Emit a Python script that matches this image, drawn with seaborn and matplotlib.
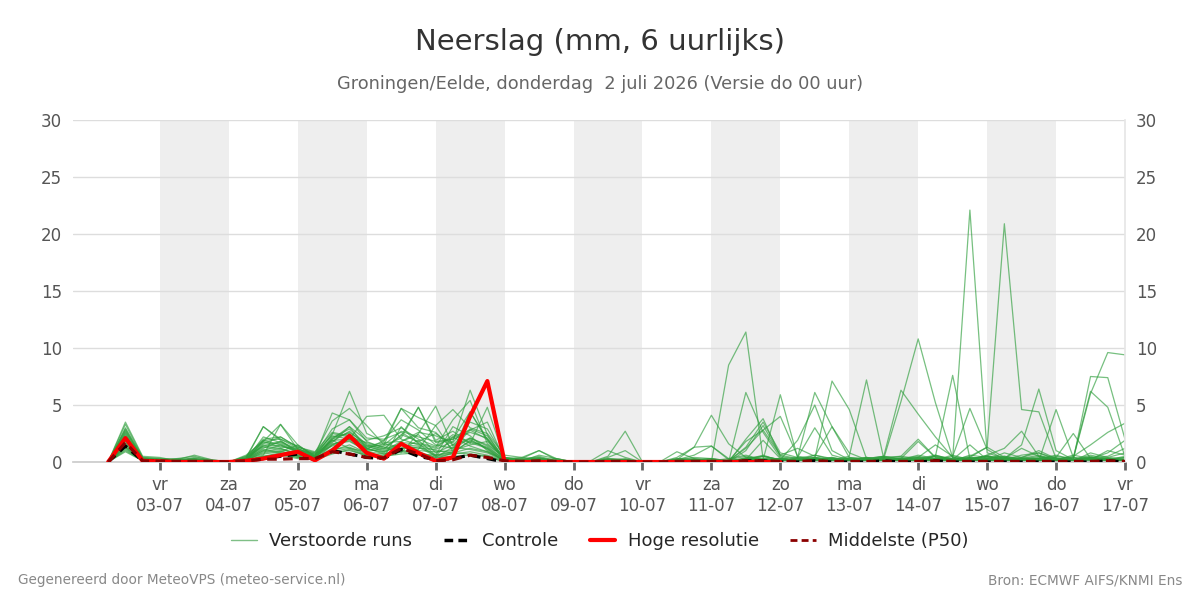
import numpy as np
import pandas as pd
import seaborn as sns
import matplotlib.pyplot as plt
from matplotlib.lines import Line2D

# ---- data: 6-hourly precipitation (mm), 02-07 06:00 .. 17-07 00:00 ----
start_time = "2026-07-02 06:00"
n_steps = 60

m01 = [0, 2.8, 0.3,  0.2, 0.1, 0.3, 0.1,  0.0, 0.2, 1.2, 1.8,
       1.0, 0.4, 2.1, 2.9,  1.5, 1.0, 1.8, 2.4,  0.8, 1.5, 2.9, 2.3,  0.3, 0.1, 0.2, 0.1,
       0.0, 0.0, 0.1, 0.3,  0.0, 0.0, 0.0, 0.2,  0.3, 0.0, 0.1, 0.5,  0.2, 0.1, 0.6, 0.3,  0.1, 0.2, 0.4, 0.1,
       0.2, 0.5, 0.3, 22.1,  0.8, 0.3, 1.2, 0.5,  0.2, 0.1, 0.8, 0.4,  0.3]
m02 = [0, 1.9, 0.2,  0.1, 0.3, 0.2, 0.1,  0.0, 0.3, 1.8, 3.3,
       1.1, 0.7, 1.9, 1.2,  0.6, 0.4, 3.1, 1.6,  0.5, 2.2, 1.4, 0.9,  0.2, 0.0, 0.3, 0.0,
       0.0, 0.0, 0.3, 0.2,  0.0, 0.0, 0.0, 0.1,  0.0, 0.0, 0.2, 0.6,  0.1, 0.0, 0.3, 0.1,  0.0, 0.4, 0.1, 0.3,
       0.1, 0.6, 0.2, 0.4,  1.3, 20.9, 4.6, 4.4,  0.3, 0.2, 0.5, 0.1,  0.2]
m03 = [0, 1.2, 0.1,  0.0, 0.0, 0.1, 0.0,  0.0, 0.1, 0.5, 0.8,
       0.4, 0.2, 1.5, 2.0,  4.0, 4.1, 2.0, 1.5,  1.0, 0.8, 1.9, 1.2,  0.0, 0.1, 0.2, 0.1,
       0.0, 0.1, 0.2, 0.1,  0.0, 0.0, 0.0, 0.2,  0.0, 8.5, 11.4, 0.3,  0.3, 0.1, 0.2, 0.4,  0.1, 0.2, 0.5, 0.3,
       0.1, 0.3, 0.2, 0.1,  0.6, 0.1, 0.4, 0.8,  0.2, 0.1, 0.4, 0.3,  0.1]
m04 = [0, 3.3, 0.4,  0.3, 0.2, 0.6, 0.2,  0.0, 0.3, 3.1, 2.0,
       1.4, 0.6, 2.4, 6.2,  2.5, 1.8, 4.7, 3.0,  2.6, 1.1, 2.1, 1.5,  0.4, 0.2, 0.5, 0.1,
       0.0, 0.0, 0.1, 0.0,  0.0, 0.0, 0.3, 0.1,  0.1, 0.0, 0.4, 0.2,  0.0, 0.1, 0.2, 0.3,  0.2, 0.1, 0.3, 5.3,
       10.8, 5.2, 0.4, 0.2,  0.1, 0.3, 0.1, 0.4,  0.2, 0.1, 0.3, 0.2,  0.1]
m05 = [0, 2.5, 0.2,  0.1, 0.0, 0.2, 0.1,  0.0, 0.5, 1.9, 1.5,
       0.9, 0.5, 4.3, 3.7,  1.8, 1.2, 2.3, 4.8,  1.9, 2.7, 1.6, 4.8,  0.3, 0.1, 0.0, 0.1,
       0.0, 0.0, 0.0, 0.1,  0.0, 0.0, 0.1, 0.0,  0.2, 0.0, 0.3, 0.1,  0.0, 0.4, 0.3, 7.1,  4.6, 0.3, 0.1, 0.2,
       0.4, 0.2, 0.1, 0.3,  0.5, 0.2, 0.3, 0.1,  0.1, 0.4, 0.2, 0.3,  0.2]
m06 = [0, 1.6, 0.3,  0.2, 0.1, 0.1, 0.0,  0.0, 0.1, 0.9, 1.2,
       0.7, 0.3, 2.0, 3.1,  1.2, 0.7, 1.1, 1.9,  0.6, 0.9, 4.4, 2.0,  0.1, 0.3, 1.0, 0.2,
       0.0, 0.0, 0.0, 0.2,  0.0, 0.0, 0.0, 0.0,  0.1, 0.0, 0.1, 0.3,  0.2, 0.0, 0.4, 0.2,  0.5, 7.2, 0.3, 0.1,
       0.2, 0.1, 0.5, 0.2,  0.1, 0.3, 0.2, 0.1,  0.0, 0.2, 0.6, 0.3,  0.1]
m07 = [0, 3.5, 0.5,  0.4, 0.1, 0.4, 0.2,  0.0, 0.2, 1.6, 2.2,
       1.3, 0.8, 3.6, 4.7,  3.2, 1.5, 4.7, 3.9,  3.2, 4.6, 3.0, 2.5,  0.6, 0.4, 0.2, 0.1,
       0.0, 0.0, 0.0, 0.0,  0.0, 0.0, 0.1, 0.0,  0.0, 0.1, 0.2, 0.1,  0.3, 0.4, 6.1, 3.1,  0.8, 0.2, 0.1, 0.3,
       0.2, 0.1, 0.2, 0.4,  0.3, 0.1, 0.2, 0.3,  0.2, 0.2, 7.5, 7.4,  2.0]
m08 = [0, 2.2, 0.2,  0.1, 0.2, 0.1, 0.1,  0.0, 0.4, 3.1, 1.9,
       0.8, 0.4, 1.8, 2.7,  1.4, 0.9, 1.5, 1.2,  1.1, 1.8, 6.3, 2.4,  0.2, 0.1, 0.4, 0.0,
       0.0, 0.0, 0.2, 0.1,  0.0, 0.0, 0.0, 0.1,  0.0, 0.2, 0.1, 0.2,  5.9, 0.4, 0.2, 0.1,  0.3, 0.2, 0.4, 0.1,
       0.2, 0.5, 0.2, 0.1,  0.3, 0.1, 0.2, 0.5,  0.2, 0.3, 6.0, 9.6,  9.4]
m09 = [0, 1.0, 0.1,  0.0, 0.1, 0.0, 0.0,  0.0, 0.1, 0.6, 3.3,
       1.5, 0.5, 2.5, 2.2,  1.7, 1.3, 0.8, 2.5,  4.9, 1.4, 2.0, 1.1,  0.1, 0.0, 0.2, 0.3,
       0.0, 0.0, 0.1, 0.0,  0.0, 0.0, 0.2, 0.3,  0.1, 0.0, 6.1, 2.6,  0.4, 0.1, 0.3, 0.2,  0.1, 0.1, 0.2, 0.3,
       0.1, 0.5, 7.6, 0.3,  0.2, 0.4, 0.1, 0.2,  0.1, 0.0, 0.3, 0.2,  0.1]
m10 = [0, 2.9, 0.3,  0.2, 0.3, 0.5, 0.1,  0.0, 0.2, 2.2, 1.7,
       1.0, 0.6, 2.9, 3.7,  2.1, 2.0, 2.6, 1.7,  1.3, 3.7, 5.4, 1.6,  0.4, 0.2, 0.1, 0.2,
       0.0, 0.0, 0.3, 0.2,  0.0, 0.0, 0.4, 1.3,  4.1, 1.6, 0.4, 0.2,  0.1, 0.2, 0.1, 0.3,  0.2, 0.3, 0.1, 0.2,
       0.4, 1.5, 0.5, 4.7,  1.1, 0.2, 0.3, 0.2,  0.4, 0.1, 0.2, 0.3,  0.1]
m11 = [0, 1.4, 0.2,  0.1, 0.0, 0.2, 0.0,  0.0, 0.3, 1.4, 1.2,
       0.6, 0.3, 1.2, 2.2,  1.1, 1.9, 3.7, 2.8,  1.5, 1.2, 2.8, 3.5,  0.2, 0.1, 0.3, 0.1,
       0.0, 0.0, 0.5, 2.7,  0.0, 0.0, 0.2, 0.4,  0.3, 0.1, 1.2, 2.8,  0.6, 0.3, 0.2, 0.1,  0.0, 0.2, 0.4, 0.5,
       0.3, 0.2, 0.1, 0.6,  0.4, 0.3, 1.5, 6.4,  1.0, 0.2, 0.4, 0.3,  0.2]
m12 = [0, 2.0, 0.2,  0.1, 0.1, 0.1, 0.0,  0.0, 0.3, 1.1, 0.9,
       1.5, 0.4, 1.6, 1.8,  1.0, 1.4, 2.1, 4.8,  1.7, 2.0, 4.4, 1.9,  0.3, 0.1, 0.2, 0.1,
       0.0, 0.0, 0.1, 0.1,  0.0, 0.0, 0.3, 0.2,  0.0, 0.1, 1.8, 2.8,  4.0, 0.5, 0.3, 0.2,  0.1, 0.3, 0.5, 6.3,
       4.2, 2.2, 0.4, 0.2,  0.5, 0.3, 0.2, 0.1,  0.3, 0.4, 6.2, 4.8,  0.5]
m13 = [0, 1.8, 0.2,  0.1, 0.1, 0.2, 0.1,  0.0, 0.1, 1.9, 2.0,
       1.2, 0.4, 2.2, 2.5,  1.2, 1.6, 1.3, 1.1,  3.2, 0.9, 1.8, 1.3,  0.2, 0.1, 0.1, 0.1,
       0.0, 0.0, 0.0, 0.1,  0.0, 0.0, 0.2, 0.1,  0.2, 0.0, 0.3, 0.5,  0.2, 1.9, 5.0, 1.0,  0.2, 0.1, 0.3, 0.2,
       0.4, 0.2, 0.1, 0.3,  0.5, 0.2, 0.3, 0.1,  4.6, 0.4, 0.2, 0.1,  0.2]
m14 = [0, 2.4, 0.2,  0.1, 0.1, 0.3, 0.1,  0.0, 0.2, 1.5, 1.4,
       1.0, 0.7, 1.4, 1.9,  0.9, 1.2, 1.5, 1.4,  0.6, 3.1, 2.3, 1.0,  0.1, 0.2, 0.3, 0.1,
       0.0, 0.0, 0.1, 0.2,  0.0, 0.0, 0.1, 0.2,  0.1, 0.0, 2.0, 3.8,  0.5, 0.2, 0.4, 0.1,  0.3, 0.2, 0.1, 0.4,
       0.2, 0.3, 0.2, 0.1,  0.2, 0.4, 0.3, 0.6,  0.2, 0.5, 1.5, 2.6,  3.4]
m15 = [0, 1.3, 0.1,  0.1, 0.0, 0.1, 0.0,  0.0, 0.2, 0.8, 1.0,
       0.5, 0.2, 1.0, 1.5,  0.8, 0.5, 1.0, 0.9,  0.4, 1.3, 1.1, 0.8,  0.1, 0.0, 0.1, 0.0,
       0.0, 0.0, 0.0, 0.0,  0.0, 0.0, 0.0, 0.2,  0.0, 0.1, 1.3, 3.5,  0.8, 0.4, 3.0, 0.6,  0.2, 0.1, 0.3, 0.5,
       2.0, 0.4, 0.3, 0.2,  0.6, 1.2, 2.7, 0.5,  0.2, 0.1, 0.3, 0.2,  0.4]
m16 = [0, 3.0, 0.4,  0.3, 0.2, 0.3, 0.1,  0.0, 0.6, 1.8, 1.3,
       1.2, 0.5, 1.7, 3.1,  1.9, 2.3, 3.0, 2.0,  1.4, 2.2, 2.8, 2.0,  0.3, 0.3, 0.4, 0.1,
       0.0, 0.0, 0.2, 0.1,  0.0, 0.0, 0.0, 0.1,  0.0, 0.0, 1.0, 3.2,  0.6, 1.2, 0.5, 3.1,  0.4, 0.2, 0.1, 0.3,
       0.5, 0.2, 0.1, 0.4,  0.3, 0.2, 0.6, 0.8,  0.3, 0.2, 0.4, 0.5,  1.2]
m17 = [0, 0.9, 0.1,  0.0, 0.0, 0.1, 0.0,  0.0, 0.1, 0.4, 0.6,
       0.3, 0.2, 0.7, 1.1,  0.5, 0.4, 0.9, 0.6,  0.3, 0.8, 0.7, 0.5,  0.0, 0.0, 0.1, 0.0,
       0.0, 0.0, 0.0, 0.0,  0.0, 0.0, 0.2, 1.3,  1.4, 0.3, 0.1, 0.2,  0.0, 0.2, 0.3, 0.1,  0.2, 0.1, 0.2, 0.3,
       0.1, 0.3, 0.2, 0.5,  1.3, 0.4, 0.2, 0.3,  0.6, 0.2, 0.3, 0.8,  1.9]
m18 = [0, 2.6, 0.3,  0.2, 0.1, 0.2, 0.1,  0.0, 0.4, 2.0, 2.2,
       1.3, 0.9, 2.6, 2.3,  1.4, 1.7, 1.8, 2.6,  2.3, 1.7, 3.5, 2.9,  0.4, 0.1, 0.6, 0.3,
       0.0, 0.1, 1.0, 0.4,  0.0, 0.0, 0.9, 0.3,  0.1, 0.0, 0.2, 0.1,  0.3, 0.1, 0.2, 0.4,  0.1, 0.4, 0.2, 0.1,
       0.3, 0.2, 0.6, 0.2,  0.4, 0.5, 0.3, 0.2,  0.4, 2.5, 0.3, 0.2,  0.4]
m19 = [0, 1.7, 0.2,  0.1, 0.2, 0.2, 0.0,  0.0, 0.2, 1.0, 1.5,
       0.8, 0.5, 1.9, 2.0,  1.2, 0.8, 1.6, 1.0,  0.9, 1.0, 1.5, 1.8,  0.3, 0.4, 1.0, 0.3,
       0.0, 0.0, 0.4, 1.0,  0.0, 0.0, 0.1, 0.2,  0.3, 0.1, 0.3, 0.2,  0.2, 0.1, 0.4, 0.2,  0.1, 0.3, 0.5, 0.2,
       0.6, 0.3, 0.2, 1.5,  0.2, 0.8, 0.4, 0.3,  0.5, 0.3, 0.2, 1.0,  0.6]
m20 = [0, 2.1, 0.2,  0.1, 0.1, 0.2, 0.1,  0.0, 0.3, 1.7, 1.6,
       0.9, 0.5, 2.0, 2.6,  1.6, 1.1, 2.4, 1.8,  2.5, 1.5, 2.1, 1.4,  0.2, 0.1, 0.2, 0.1,
       0.0, 0.0, 0.1, 0.1,  0.0, 0.0, 0.2, 0.6,  1.4, 0.2, 0.5, 0.2,  0.1, 0.3, 0.2, 0.1,  0.4, 0.2, 0.1, 0.3,
       1.8, 0.4, 0.2, 0.3,  0.1, 0.2, 0.4, 1.0,  0.3, 0.1, 0.2, 0.4,  0.8]
m21 = [0, 1.5, 0.2,  0.1, 0.1, 0.1, 0.0,  0.0, 0.2, 0.7, 0.9,
       0.6, 0.3, 1.1, 1.3,  0.7, 0.6, 1.2, 1.3,  0.5, 0.7, 0.9, 0.6,  0.1, 0.0, 0.1, 0.0,
       0.0, 0.0, 0.0, 0.0,  0.0, 0.0, 0.0, 0.1,  0.0, 0.0, 0.1, 0.1,  0.2, 0.1, 0.1, 0.0,  0.1, 0.2, 0.1, 0.1,
       0.2, 0.1, 0.1, 0.2,  0.1, 0.2, 0.1, 0.1,  0.2, 0.1, 0.3, 0.2,  0.1]
m22 = [0, 2.3, 0.2,  0.2, 0.1, 0.2, 0.1,  0.0, 0.3, 1.3, 1.1,
       0.8, 0.4, 1.5, 2.2,  1.1, 0.9, 1.7, 1.6,  1.2, 2.4, 1.7, 1.2,  0.2, 0.1, 0.1, 0.0,
       0.0, 0.0, 0.0, 0.0,  0.0, 0.0, 0.0, 0.1,  0.2, 0.0, 0.2, 1.9,  0.3, 0.1, 0.2, 0.1,  0.0, 0.1, 0.2, 0.2,
       0.1, 0.2, 0.3, 0.1,  0.2, 0.1, 0.2, 0.3,  0.1, 0.2, 0.2, 0.1,  0.2]
m23 = [0, 1.1, 0.1,  0.0, 0.1, 0.0, 0.0,  0.0, 0.1, 0.5, 0.7,
       0.4, 0.3, 0.8, 1.0,  0.6, 0.5, 0.7, 0.8,  0.4, 0.5, 0.6, 0.5,  0.0, 0.0, 0.0, 0.0,
       0.0, 0.0, 0.0, 0.0,  0.0, 0.0, 0.0, 0.0,  0.0, 0.0, 0.1, 0.1,  0.0, 0.1, 0.0, 0.1,  0.0, 0.0, 0.1, 0.0,
       0.1, 0.0, 0.1, 0.0,  0.0, 0.1, 0.0, 0.1,  0.0, 0.1, 0.0, 0.1,  0.0]
m24 = [0, 2.7, 0.3,  0.2, 0.1, 0.2, 0.1,  0.0, 0.5, 1.4, 1.8,
       1.1, 0.8, 2.3, 2.0,  1.3, 1.5, 2.7, 2.2,  1.8, 2.0, 2.6, 2.1,  0.3, 0.2, 0.3, 0.1,
       0.0, 0.0, 0.2, 0.1,  0.0, 0.0, 0.1, 0.2,  0.1, 0.3, 0.6, 0.2,  0.1, 0.3, 0.6, 0.2,  0.3, 0.4, 0.2, 0.1,
       0.3, 0.6, 0.2, 0.1,  0.3, 0.5, 0.2, 0.3,  0.2, 0.6, 0.3, 0.2,  0.5]
m25 = [0, 1.3, 0.1,  0.1, 0.0, 0.1, 0.0,  0.0, 0.2, 1.0, 0.8,
       0.5, 0.2, 0.9, 1.2,  0.9, 0.7, 1.0, 0.7,  0.6, 0.8, 1.2, 0.9,  0.1, 0.0, 0.1, 0.0,
       0.0, 0.0, 0.0, 0.0,  0.0, 0.0, 0.0, 0.0,  0.0, 0.0, 0.3, 0.5,  0.2, 0.1, 0.1, 0.2,  0.1, 0.2, 0.1, 0.2,
       0.1, 0.2, 0.1, 0.2,  0.1, 0.1, 0.2, 0.1,  0.2, 0.1, 0.1, 0.2,  0.1]

members = [m01, m02, m03, m04, m05, m06, m07, m08, m09, m10, m11, m12, m13,
           m14, m15, m16, m17, m18, m19, m20, m21, m22, m23, m24, m25]

# high resolution run (10 days)
hres = [0, 2.1, 0.1,  0.05, 0, 0, 0,  0, 0.1, 0.3, 0.6,
        0.9, 0.15, 1.0, 2.3,  0.8, 0.3, 1.6, 0.8,  0.1, 0.4, 4.0, 7.1,  0, 0, 0, 0,
        0, 0, 0, 0,  0, 0, 0, 0,  0, 0, 0, 0,  0]
control = [0, 1.4, 0.1,  0.1, 0.0, 0.0, 0.0,  0.0, 0.1, 0.3, 0.5,
           0.7, 0.2, 1.0, 0.7,  0.4, 0.3, 1.1, 0.5,  0.2, 0.3, 0.6, 0.3,  0.0, 0.0, 0.0, 0.0,
           0.0, 0.0, 0.0, 0.0,  0.0, 0.0, 0.0, 0.0,  0.0, 0.0, 0.1, 0.1,  0.0, 0.0, 0.1, 0.0,  0.0, 0.0, 0.1, 0.0,
           0.0, 0.1, 0.0, 0.0,  0.0, 0.0, 0.0, 0.0,  0.0, 0.0, 0.0, 0.1,  0.0]
p50 = [0, 1.7, 0.1,  0.05, 0.05, 0.05, 0.05,  0, 0.1, 0.25, 0.25,
       0.3, 0.3, 0.9, 0.7,  0.4, 0.35, 1.2, 0.7,  0.1, 0.2, 0.6, 0.4,  0.1, 0.05, 0.1, 0.05,
       0, 0, 0.05, 0.05,  0, 0, 0.05, 0.05,  0.05, 0.05, 0.1, 0.1,  0.05, 0.05, 0.1, 0.05,  0.05, 0.05, 0.05, 0.05,
       0.05, 0.1, 0.05, 0.05,  0.05, 0.05, 0.05, 0.05,  0.05, 0.05, 0.05, 0.1,  0.05]

day_ticks = ["2026-07-03", "2026-07-04", "2026-07-05", "2026-07-06", "2026-07-07",
             "2026-07-08", "2026-07-09", "2026-07-10", "2026-07-11", "2026-07-12",
             "2026-07-13", "2026-07-14", "2026-07-15", "2026-07-16", "2026-07-17"]
day_labels = ["vr\n03-07", "za\n04-07", "zo\n05-07", "ma\n06-07", "di\n07-07",
              "wo\n08-07", "do\n09-07", "vr\n10-07", "za\n11-07", "zo\n12-07",
              "ma\n13-07", "di\n14-07", "wo\n15-07", "do\n16-07", "vr\n17-07"]
shaded_days = ["2026-07-03", "2026-07-05", "2026-07-07", "2026-07-09",
               "2026-07-11", "2026-07-13", "2026-07-15"]

# ---- build frames ----
times = pd.date_range(start_time, periods=n_steps, freq="6h")
ens = pd.DataFrame({f"m{i+1:02d}": m for i, m in enumerate(members)}, index=times)
ens_long = ens.reset_index(names="time").melt(id_vars="time", var_name="member", value_name="mm")
det = pd.DataFrame({"time": times, "control": control, "p50": p50})
det["hres"] = pd.Series(hres, dtype=float).reindex(range(n_steps))

# ---- plot ----
sns.set_theme(style="white")
plt.rcParams["font.family"] = ["DejaVu Sans"]

fig = plt.figure(figsize=(12, 6), dpi=100)
ax = fig.add_axes([73 / 1200, 138 / 600, 1052 / 1200, 342 / 600])

for d in shaded_days:
    d0 = pd.Timestamp(d)
    ax.axvspan(d0, d0 + pd.Timedelta(days=1), color="#eeeeee", zorder=0, lw=0)

ax.yaxis.grid(True, color="#dddddd", lw=1, zorder=1)
ax.set_axisbelow(True)

green = "#2e9e3c"
sns.lineplot(data=ens_long, x="time", y="mm", units="member", estimator=None,
             color=green, lw=0.9, alpha=0.65, ax=ax, zorder=2, legend=False)
sns.lineplot(data=det, x="time", y="control", color="black", lw=2.3,
             ls=(0, (3, 2)), ax=ax, zorder=3)
sns.lineplot(data=det, x="time", y="hres", color="#ff0000", lw=3,
             ax=ax, zorder=4)
sns.lineplot(data=det, x="time", y="p50", color="#8b0000", lw=2.3,
             ls=(0, (3, 2)), ax=ax, zorder=5)

ax.set_xlim(pd.Timestamp("2026-07-01 17:45"), pd.Timestamp("2026-07-17 00:00"))
ax.set_ylim(0, 30)
ax.set_yticks([0, 5, 10, 15, 20, 25, 30])
ax.set_xticks(pd.to_datetime(day_ticks))
ax.set_xticklabels(day_labels)
ax.set_xlabel("")
ax.set_ylabel("")

ax.tick_params(axis="x", length=6, width=2, color="#666666", labelsize=12,
               labelcolor="#555555", pad=4, bottom=True)
ax.tick_params(axis="y", length=0, labelsize=12, labelcolor="#555555",
               labelleft=True, labelright=True, pad=8)
for s in ["top", "left"]:
    ax.spines[s].set_visible(False)
ax.spines["right"].set_color("#e6e6e6")
ax.spines["bottom"].set_color("#cccccc")

# ---- texts ----
fig.text(0.5, 1 - 42 / 600, "Neerslag (mm, 6 uurlijks)", ha="center", va="center",
         fontsize=21, color="#333333")
fig.text(0.5, 1 - 84 / 600, "Groningen/Eelde, donderdag  2 juli 2026 (Versie do 00 uur)",
         ha="center", va="center", fontsize=12.8, color="#666666")

handles = [
    Line2D([], [], color="#7fbf86", lw=1),
    Line2D([], [], color="black", lw=2.5, ls=(0, (2.5, 1.5))),
    Line2D([], [], color="#ff0000", lw=3),
    Line2D([], [], color="#8b0000", lw=2, ls=(0, (2.5, 1.5))),
]
labels = ["Verstoorde runs", "Controle", "Hoge resolutie", "Middelste (P50)"]
fig.legend(handles, labels, loc="center", bbox_to_anchor=(0.5, 1 - 541 / 600),
           ncol=4, frameon=False, fontsize=13, handlelength=1.4, columnspacing=1.75,
           handletextpad=0.7)

fig.text(18 / 1200, 1 - 580 / 600, "Gegenereerd door MeteoVPS (meteo-service.nl)",
         ha="left", va="center", fontsize=9.8, color="#888888")
fig.text(1182 / 1200, 1 - 580 / 600, "Bron: ECMWF AIFS/KNMI Ens",
         ha="right", va="center", fontsize=9.8, color="#888888")

fig.savefig("out.png", dpi=100)
